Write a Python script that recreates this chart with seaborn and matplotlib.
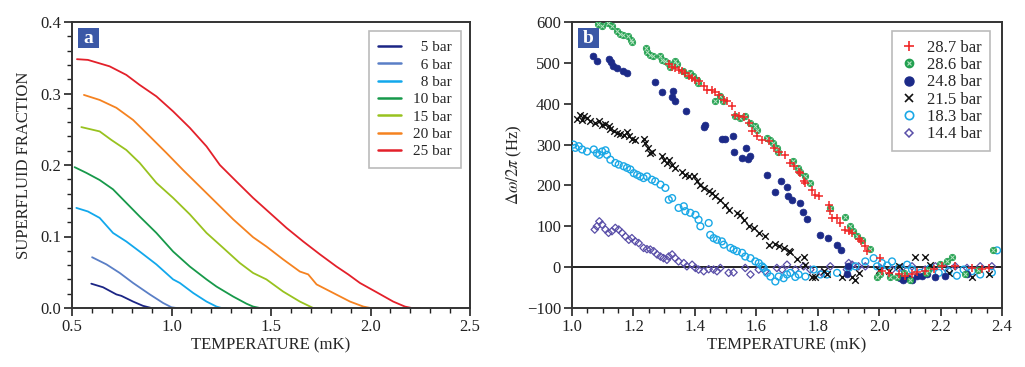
import numpy as np
import pandas as pd
import matplotlib
matplotlib.use("Agg")
import matplotlib.pyplot as plt
import seaborn as sns
from matplotlib.lines import Line2D
from matplotlib.legend_handler import HandlerTuple

# ---------------- Panel a data ----------------
a_labels = ["5 bar", "6 bar", "8 bar", "10 bar", "15 bar", "20 bar", "25 bar"]
a_colors = ["#1b2585", "#5a7fc6", "#12a8ec", "#17994a", "#98c21f", "#f58220", "#e3202a"]

t5 = [0.597, 0.656, 0.723, 0.748, 0.807, 0.857, 0.899, 0.95, 1.0]
f5 = [0.034, 0.029, 0.019, 0.017, 0.009, 0.003, 0.0, 0.0, 0.0]
t6 = [0.601, 0.673, 0.740, 0.807, 0.891, 0.958, 1.0, 1.025, 1.14]
f6 = [0.071, 0.061, 0.049, 0.035, 0.019, 0.007, 0.001, 0.0, 0.0]
t8 = [0.522, 0.580, 0.639, 0.706, 0.773, 0.840, 0.924, 1.008, 1.042, 1.109, 1.176, 1.226, 1.251, 1.276]
f8 = [0.140, 0.135, 0.126, 0.105, 0.093, 0.079, 0.061, 0.040, 0.035, 0.021, 0.009, 0.002, 0.0, 0.0]
t10 = [0.513, 0.572, 0.639, 0.706, 0.773, 0.840, 0.924, 1.008, 1.092, 1.176, 1.226, 1.310, 1.377, 1.410, 1.444, 1.46]
f10 = [0.197, 0.189, 0.179, 0.166, 0.147, 0.128, 0.105, 0.079, 0.058, 0.040, 0.030, 0.016, 0.006, 0.002, 0.0, 0.0]
t15 = [0.547, 0.639, 0.698, 0.773, 0.840, 0.924, 1.008, 1.092, 1.176, 1.260, 1.343, 1.410, 1.477, 1.561, 1.645, 1.712, 1.796]
f15 = [0.253, 0.247, 0.235, 0.221, 0.203, 0.175, 0.154, 0.131, 0.105, 0.084, 0.063, 0.049, 0.040, 0.023, 0.009, 0.0, 0.0]
t20 = [0.560, 0.639, 0.723, 0.807, 0.891, 0.974, 1.058, 1.142, 1.226, 1.310, 1.410, 1.477, 1.561, 1.645, 1.687, 1.729, 1.813, 1.897, 1.964, 2.0, 2.047]
f20 = [0.298, 0.291, 0.280, 0.263, 0.240, 0.217, 0.193, 0.170, 0.147, 0.124, 0.099, 0.086, 0.068, 0.051, 0.047, 0.033, 0.021, 0.009, 0.002, 0.0, 0.0]
t25 = [0.525, 0.580, 0.689, 0.773, 0.840, 0.924, 1.008, 1.092, 1.176, 1.243, 1.326, 1.410, 1.494, 1.578, 1.662, 1.746, 1.829, 1.888, 1.947, 2.031, 2.114, 2.173, 2.207, 2.25]
f25 = [0.348, 0.347, 0.338, 0.326, 0.312, 0.296, 0.275, 0.252, 0.226, 0.200, 0.177, 0.154, 0.133, 0.112, 0.093, 0.075, 0.058, 0.047, 0.035, 0.022, 0.009, 0.002, 0.0, 0.0]
a_T = [t5, t6, t8, t10, t15, t20, t25]
a_F = [f5, f6, f8, f10, f15, f20, f25]

# ---------------- Panel b data ----------------
b_labels = ["28.7 bar", "28.6 bar", "24.8 bar", "21.5 bar", "18.3 bar", "14.4 bar"]

x287 = [1.315, 1.326, 1.336, 1.347, 1.358, 1.369, 1.380, 1.391, 1.402, 1.412, 1.429, 1.440, 1.456, 1.467, 1.478, 1.494,
        1.505, 1.521, 1.532, 1.543, 1.559, 1.575, 1.586, 1.602, 1.619, 1.640, 1.657, 1.673, 1.695, 1.711, 1.722, 1.738,
        1.743, 1.754, 1.760, 1.781, 1.792, 1.803, 1.836, 1.841, 1.847, 1.863, 1.874, 1.890, 1.901, 1.912, 1.933, 1.942,
        1.955, 1.960, 2.004, 2.009, 2.031, 2.064, 2.085, 2.107, 2.123, 2.150, 2.178, 2.205, 2.248, 2.302, 2.335, 2.357]
y287 = [496, 491, 487, 483, 479, 474, 467, 463, 459, 455, 444, 434, 433, 428, 422, 410,
        406, 394, 373, 369, 367, 353, 332, 322, 312, 308, 292, 283, 275, 255, 247, 234,
        230, 210, 206, 190, 177, 175, 153, 137, 120, 120, 108, 92, 88, 84, 69, 63,
        51, 39, 22, -10, -14, -18, -22, -16, -13, -10, -5, 2, 2, -2, -5, -1]

x286 = [1.086, 1.097, 1.118, 1.129, 1.145, 1.156, 1.167, 1.183, 1.191, 1.194, 1.241, 1.245, 1.254, 1.263, 1.287, 1.292,
        1.303, 1.314, 1.319, 1.335, 1.341, 1.362, 1.373, 1.384, 1.395, 1.406, 1.411, 1.466, 1.482, 1.493, 1.531, 1.547,
        1.563, 1.580, 1.596, 1.601, 1.634, 1.645, 1.656, 1.666, 1.672, 1.721, 1.737, 1.742, 1.759, 1.775, 1.840, 1.889,
        1.905, 1.916, 1.927, 1.943, 1.970, 1.992, 2.003, 2.035, 2.057, 2.08, 2.102, 2.151, 2.160, 2.198, 2.220, 2.236,
        2.280, 2.323, 2.372]
y286 = [596, 591, 598, 589, 577, 571, 569, 565, 555, 550, 536, 526, 520, 516, 516, 508,
        504, 500, 491, 504, 496, 479, 471, 475, 467, 459, 451, 406, 418, 406, 369, 365,
        369, 353, 345, 336, 316, 312, 304, 292, 283, 259, 243, 234, 222, 206, 145, 123,
        101, 88, 75, 67, 44, -23, -18, -23, -24, -14, -31, -14, -6, 8, 14, 25,
        -18, -8, 41]

x248 = [1.069, 1.080, 1.122, 1.126, 1.132, 1.145, 1.167, 1.178, 1.270, 1.292, 1.328, 1.325, 1.335, 1.371, 1.433, 1.430,
        1.487, 1.498, 1.523, 1.528, 1.552, 1.567, 1.580, 1.574, 1.634, 1.680, 1.661, 1.699, 1.704, 1.715, 1.742, 1.753,
        1.764, 1.807, 1.835, 1.862, 1.876, 1.894, 1.900, 2.068, 2.079, 2.095, 2.106, 2.122, 2.138, 2.155, 2.182, 2.214,
        2.285]
y248 = [518, 504, 509, 501, 493, 487, 479, 474, 452, 428, 432, 416, 406, 381, 349, 343,
        314, 314, 322, 281, 267, 292, 273, 265, 226, 210, 183, 196, 173, 165, 157, 134,
        118, 79, 71, 55, 43, -18, 2, -27, -32, -27, -31, -21, -21, -18, -24, -22,
        -18]

x215 = [1.016, 1.027, 1.033, 1.038, 1.049, 1.060, 1.076, 1.087, 1.098, 1.109, 1.119, 1.125, 1.136, 1.147, 1.157, 1.168,
        1.179, 1.185, 1.195, 1.206, 1.233, 1.239, 1.247, 1.255, 1.260, 1.293, 1.298, 1.309, 1.315, 1.326, 1.336, 1.358,
        1.369, 1.380, 1.396, 1.407, 1.418, 1.429, 1.445, 1.456, 1.467, 1.483, 1.499, 1.510, 1.537, 1.548, 1.559, 1.575,
        1.591, 1.608, 1.629, 1.640, 1.662, 1.673, 1.689, 1.705, 1.711, 1.733, 1.754, 1.760, 1.781, 1.792, 1.819, 1.830,
        1.879, 1.912, 1.923, 1.933, 1.998, 2.031, 2.064, 2.118, 2.150, 2.167, 2.226, 2.302, 2.357]
y215 = [363, 373, 361, 369, 365, 357, 353, 357, 349, 351, 345, 338, 332, 328, 327, 324,
        330, 322, 314, 312, 314, 304, 292, 279, 281, 271, 263, 255, 263, 251, 243, 234,
        226, 222, 222, 210, 202, 194, 186, 181, 173, 165, 153, 141, 133, 128, 116, 100,
        96, 84, 75, 55, 57, 51, 47, 39, 37, 20, 26, 6, -23, -23, -10, -18,
        -23, -23, -31, -14, -6, -10, 2, 26, 26, 6, -14, -23, -18]

x183 = [1.005, 1.011, 1.022, 1.033, 1.049, 1.071, 1.081, 1.089, 1.098, 1.109, 1.114, 1.125, 1.141, 1.152, 1.168, 1.179,
        1.190, 1.201, 1.212, 1.222, 1.233, 1.244, 1.260, 1.271, 1.288, 1.304, 1.315, 1.326, 1.347, 1.364, 1.369, 1.385,
        1.402, 1.412, 1.418, 1.445, 1.450, 1.461, 1.472, 1.488, 1.494, 1.516, 1.526, 1.537, 1.554, 1.564, 1.581, 1.597,
        1.608, 1.619, 1.624, 1.635, 1.646, 1.662, 1.673, 1.689, 1.700, 1.711, 1.727, 1.738, 1.760, 1.787, 1.809, 1.830,
        1.863, 1.901, 1.923, 1.955, 1.982, 1.993, 2.009, 2.026, 2.042, 2.064, 2.091, 2.107, 2.134, 2.167, 2.194, 2.226,
        2.253, 2.275, 2.302, 2.329, 2.367, 2.384]
y183 = [300, 292, 296, 288, 283, 288, 279, 275, 283, 286, 275, 263, 255, 251, 247, 243,
        239, 230, 226, 222, 218, 222, 214, 210, 202, 194, 165, 169, 145, 149, 137, 133,
        128, 116, 100, 108, 79, 71, 67, 63, 55, 47, 43, 39, 35, 26, 22, 14,
        10, 2, -2, -14, -23, -35, -23, -27, -18, -14, -24, -18, -23, -6, -18, -18,
        -14, -2, 2, 14, 22, 2, 10, 4, 14, -2, 6, -6, -14, -2, -14, -10,
        -21, -6, -10, -18, -13, 41]

x144 = [1.074, 1.081, 1.089, 1.098, 1.109, 1.119, 1.130, 1.141, 1.152, 1.163, 1.174, 1.185, 1.195, 1.206, 1.217, 1.233,
        1.244, 1.255, 1.266, 1.277, 1.288, 1.298, 1.309, 1.315, 1.326, 1.336, 1.347, 1.364, 1.374, 1.391, 1.402, 1.412,
        1.429, 1.445, 1.461, 1.472, 1.483, 1.510, 1.526, 1.564, 1.581, 1.608, 1.629, 1.667, 1.684, 1.700, 1.727, 1.754,
        1.776, 1.814, 1.841, 1.895, 1.901, 1.912, 1.933, 1.955, 2.004, 2.042, 2.074, 2.107, 2.150, 2.183, 2.216, 2.248,
        2.286, 2.329, 2.367]
y144 = [92, 100, 112, 104, 92, 84, 88, 96, 92, 84, 75, 67, 71, 63, 59, 47,
        44, 43, 39, 31, 26, 22, 18, 26, 31, 22, 14, 10, 2, 6, -2, -6,
        -10, -5, -6, -10, -2, -14, -13, -2, -18, -6, -10, -2, -6, 6, -6, 2,
        -6, -14, 2, -6, 10, 6, 2, 2, -2, -6, -2, 2, -6, 2, -2, 2,
        -2, 2, 2]

# ---------------- Figure ----------------
sns.set_style("ticks")
plt.rcParams["font.family"] = ["Liberation Serif", "DejaVu Serif"]
plt.rcParams["mathtext.fontset"] = "stix"
plt.rcParams["axes.linewidth"] = 1.4
plt.rcParams["axes.edgecolor"] = "#333333"

fig = plt.figure(figsize=(10.25, 3.67), dpi=100)
ax1 = fig.add_axes([72 / 1025, 1 - 308 / 367, 398 / 1025, 286 / 367])
ax2 = fig.add_axes([572 / 1025, 1 - 308 / 367, 430 / 1025, 286 / 367])

# Panel a
dfa = pd.concat([pd.DataFrame({"T": t, "F": f, "p": lab})
                 for t, f, lab in zip(a_T, a_F, a_labels)], ignore_index=True)
sns.lineplot(data=dfa, x="T", y="F", hue="p", hue_order=a_labels, palette=a_colors,
             sort=False, estimator=None, units="p", lw=1.3, ax=ax1, legend=False)
ax1.set_xlim(0.5, 2.5)
ax1.set_ylim(0.0, 0.4)
ax1.set_xticks([0.5, 1.0, 1.5, 2.0, 2.5])
ax1.set_xticklabels(["0.5", "1.0", "1.5", "2.0", "2.5"])
ax1.set_xticks(np.arange(0.5, 2.51, 0.1), minor=True)
ax1.set_yticks([0.0, 0.1, 0.2, 0.3, 0.4])
ax1.set_yticklabels(["0.0", "0.1", "0.2", "0.3", "0.4"])
ax1.set_yticks(np.arange(0.0, 0.401, 0.02), minor=True)
ax1.set_xlabel("TEMPERATURE (mK)", fontsize=12, labelpad=2)
ax1.set_ylabel("SUPERFLUID FRACTION", fontsize=12, labelpad=6)

# pad single-digit labels so the legend text appears right-aligned
a_leg_labels = [("  " + s) if len(s.split()[0]) == 1 else s for s in a_labels]
handles_a = [Line2D([], [], color=c, lw=1.8) for c in a_colors]
leg1 = ax1.legend(handles_a, a_leg_labels, loc="upper right", bbox_to_anchor=(0.977, 0.967),
                  borderaxespad=0, fontsize=11, frameon=True, fancybox=False,
                  edgecolor="#aaaaaa", labelspacing=0.24, handlelength=1.5,
                  handletextpad=0.8, borderpad=0.6)
leg1.get_frame().set_linewidth(1.2)

# Panel b
ax2.axhline(0, color="#222222", lw=1.4, zorder=1)
common = dict(ax=ax2, legend=False, zorder=3)
sns.scatterplot(x=x144, y=y144, marker="D", s=14, facecolor="none", edgecolor="#5a4fa8", linewidth=0.9, **common)
sns.scatterplot(x=x183, y=y183, marker="o", s=24, facecolor="none", edgecolor="#1aa8e6", linewidth=1.0, **common)
sns.scatterplot(x=x215, y=y215, marker="x", s=22, color="#111111", linewidth=1.0, **common)
sns.scatterplot(x=x248, y=y248, marker="o", s=24, color="#1c2a88", edgecolor="#1c2a88", linewidth=0.5, **common)
sns.scatterplot(x=x286, y=y286, marker="o", s=22, color="#22a050", edgecolor="#22a050", linewidth=0.5, **common)
sns.scatterplot(x=x286, y=y286, marker="x", s=8, color="#b6e3c2", linewidth=0.7, **common)
sns.scatterplot(x=x287, y=y287, marker="+", s=30, color="#f02828", linewidth=1.1, **common)

ax2.set_xlim(1.0, 2.4)
ax2.set_ylim(-100, 600)
ax2.set_xticks(np.arange(1.0, 2.41, 0.2))
ax2.set_xticklabels(["1.0", "1.2", "1.4", "1.6", "1.8", "2.0", "2.2", "2.4"])
ax2.set_xticks(np.arange(1.0, 2.41, 0.05), minor=True)
ax2.set_yticks(np.arange(-100, 601, 100))
ax2.set_yticklabels(["\u2212100", "0", "100", "200", "300", "400", "500", "600"])
ax2.set_xlabel("TEMPERATURE (mK)", fontsize=12, labelpad=2)
ax2.set_ylabel(r"$\Delta\omega/2\pi$ (Hz)", fontsize=12, labelpad=2)

h287 = Line2D([], [], ls="none", marker="+", ms=7, mew=1.2, color="#f02828")
h286 = (Line2D([], [], ls="none", marker="o", ms=6, color="#22a050"),
        Line2D([], [], ls="none", marker="x", ms=3.5, mew=0.8, color="#b6e3c2"))
h248 = Line2D([], [], ls="none", marker="o", ms=6.5, color="#1c2a88")
h215 = Line2D([], [], ls="none", marker="x", ms=6, mew=1.2, color="#111111")
h183 = Line2D([], [], ls="none", marker="o", ms=6, mfc="none", mew=1.2, color="#1aa8e6")
h144 = Line2D([], [], ls="none", marker="D", ms=4.5, mfc="none", mew=1.1, color="#5a4fa8")
leg2 = ax2.legend([h287, h286, h248, h215, h183, h144], b_labels, loc="upper right",
                  bbox_to_anchor=(0.972, 0.967), borderaxespad=0, fontsize=12, frameon=True,
                  fancybox=False, edgecolor="#aaaaaa", labelspacing=0.08, handlelength=1.0,
                  handletextpad=0.6, borderpad=0.5,
                  handler_map={tuple: HandlerTuple(ndivide=1, pad=0)})
leg2.get_frame().set_linewidth(1.2)

for ax in (ax1, ax2):
    ax.tick_params(axis="both", which="major", direction="out", length=6, width=1.2,
                   labelsize=12, colors="#222222", pad=2)
    ax.tick_params(axis="both", which="minor", direction="out", length=3.5, width=1.0, colors="#222222")
    for sp in ax.spines.values():
        sp.set_visible(True)
        sp.set_color("#333333")
ax2.tick_params(axis="y", which="minor", left=False)

# panel letters
for ax, letter, w in ((ax1, "a", 398), (ax2, "b", 430)):
    x0 = 6 / w
    ax.add_patch(plt.Rectangle((x0, 1 - 26 / 286), 21 / w, 20 / 286, transform=ax.transAxes,
                               facecolor="#3b58a6", edgecolor="none", zorder=5))
    ax.text(x0 + 10.5 / w, 1 - 16.5 / 286, letter, transform=ax.transAxes, ha="center", va="center",
            color="white", fontsize=14, fontweight="bold", zorder=6)

fig.savefig("out.png", dpi=100)
